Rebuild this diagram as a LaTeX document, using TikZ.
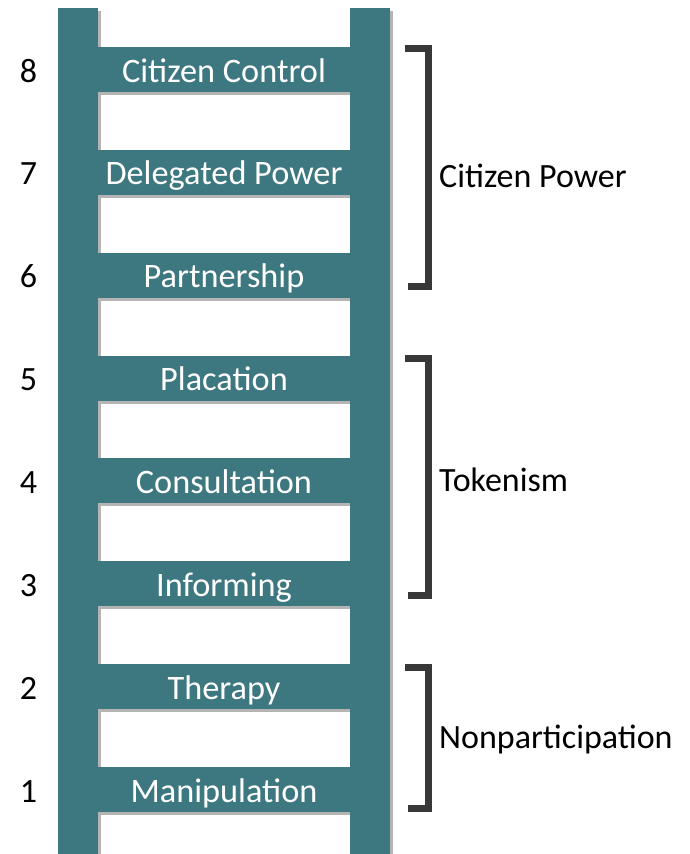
\documentclass[tikz,border=0pt]{standalone}
\usepackage{fontspec}
\setmainfont{Carlito}
\definecolor{ladderteal}{HTML}{3D7780}
\definecolor{shadowgray}{HTML}{B4B4B4}
\definecolor{bracketgray}{HTML}{383838}
\tikzset{
  rail/.style={fill=ladderteal},
  railshadow/.style={fill=shadowgray},
  rung/.style={rectangle, fill=ladderteal, inner sep=0pt, minimum width=254pt, minimum height=45pt,
    text=white, text height=35pt, text depth=10pt, font=\fontsize{34.3}{40}\selectfont},
  numlbl/.style={inner sep=0pt, text=black, font=\fontsize{34}{40}\selectfont},
  grouplbl/.style={inner sep=0pt, text=black, font=\fontsize{34}{40}\selectfont},
  bracket/.style={draw=bracketgray, line width=7pt, line join=miter},
}
\begin{document}
\begin{tikzpicture}[x=1pt,y=-1pt]
\useasboundingbox[fill=white] (0,0) rectangle (690,854);
% rail shadows
\fill[railshadow] (61,11) rectangle (101,857);
\fill[railshadow] (353,11) rectangle (393,857);
% rails
\fill[rail] (58,8) rectangle (98,854);
\fill[rail] (350,8) rectangle (390,854);
% rungs
\foreach \k/\txt in {8/Citizen Control,7/Delegated Power,6/Partnership,5/Placation,4/Consultation,3/Informing,2/Therapy,1/Manipulation}{
  \pgfmathsetmacro\rtop{47+(8-\k)*102.86}
  \fill[shadowgray] (98,\rtop+45) rectangle (350,\rtop+48);
  \node[rung] (r\k) at (224,\rtop+22.5) {\txt};
  \node[numlbl, anchor=base] (n\k) at (28.5,\rtop+35) {\k};
}
% brackets
\coordinate (cpA) at (405,48.5);
\coordinate (cpB) at (428.5,48.5);
\coordinate (cpC) at (428.5,286.5);
\coordinate (cpD) at (408,286.5);
\draw[bracket] (cpA) -- (cpB) -- (cpC) -- (cpD);
\coordinate (tkA) at (405,358.5);
\coordinate (tkB) at (428.5,358.5);
\coordinate (tkC) at (428.5,595.5);
\coordinate (tkD) at (408,595.5);
\draw[bracket] (tkA) -- (tkB) -- (tkC) -- (tkD);
\coordinate (npA) at (405,667.5);
\coordinate (npB) at (428.5,667.5);
\coordinate (npC) at (428.5,808.5);
\coordinate (npD) at (408,808.5);
\draw[bracket] (npA) -- (npB) -- (npC) -- (npD);
% group labels
\node[grouplbl, anchor=base west] (gcp) at (439,187) {Citizen Power};
\node[grouplbl, anchor=base west] (gtk) at (439,491) {Tokenism};
\node[grouplbl, anchor=base west] (gnp) at (439,748) {Nonparticipation};
\end{tikzpicture}
\end{document}
